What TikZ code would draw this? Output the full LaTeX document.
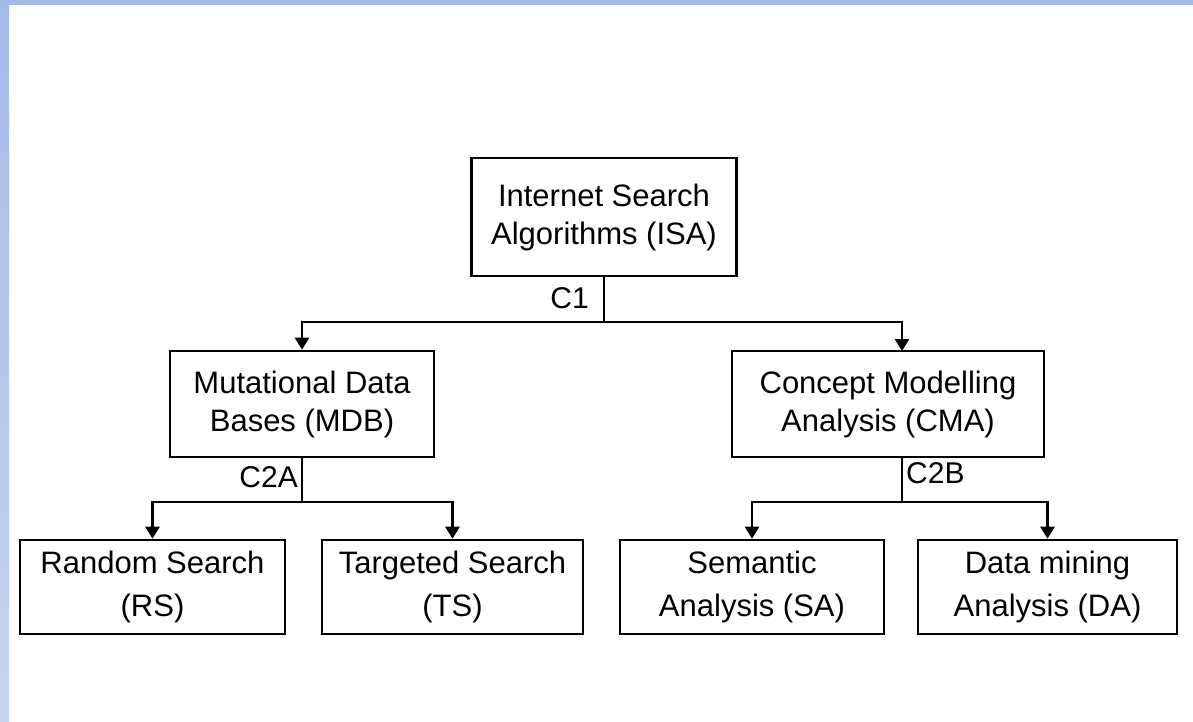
\documentclass[tikz,border=0pt]{standalone}
\usepackage{fontspec}
\setmainfont{Liberation Sans}
\usetikzlibrary{arrows.meta}
\definecolor{bandblue}{HTML}{A3BBE6}
\definecolor{bandlight}{HTML}{C6D5F0}
\begin{document}
\begin{tikzpicture}[x=1pt,y=-1pt,
  box/.style={draw=black,line width=2.6pt,fill=white,align=center,inner sep=0pt,
    font=\fontsize{31}{38}\selectfont},
  lowbox/.style={box,font=\fontsize{31}{43}\selectfont},
  conn/.style={line width=2.6pt,draw=black},
  arr/.style={conn,-{Triangle[width=14pt,length=12pt]}},
  lbl/.style={font=\fontsize{30}{36}\selectfont,inner sep=0pt}]
\useasboundingbox (0,0) rectangle (1193,721);
\fill[white] (0,0) rectangle (1193,721);
\fill[bandblue] (0,0) rectangle (1193,5);
\shade[top color=bandblue,bottom color=bandlight] (0,0) rectangle (9,721);
% nodes
\node[box,minimum width=265pt,minimum height=118pt] (ISA) at (604,217) {Internet Search\\Algorithms (ISA)};
\node[box,minimum width=264pt,minimum height=106pt] (MDB) at (302,404) {Mutational Data\\Bases (MDB)};
\node[box,minimum width=312pt,minimum height=106pt] (CMA) at (888,404) {Concept Modelling\\Analysis (CMA)};
\node[lowbox,minimum width=265pt,minimum height=94pt] (RS) at (152.5,587) {Random Search\\(RS)};
\node[lowbox,minimum width=261pt,minimum height=94pt] (TS) at (452.5,587) {Targeted Search\\(TS)};
\node[lowbox,minimum width=264pt,minimum height=94pt] (SA) at (752,587) {Semantic\\Analysis (SA)};
\node[lowbox,minimum width=259pt,minimum height=94pt] (DA) at (1047.5,587) {Data mining\\Analysis (DA)};
% junctions
\coordinate (j1) at (604,322);
\coordinate (j2) at (302,502);
\coordinate (j3) at (902,502);
\coordinate (cmatop) at (902,351);
\coordinate (cmabot) at (902,457);
% connectors
\draw[conn] (ISA.south) -- (j1);
\draw[arr] (j1) -| (MDB.north);
\draw[arr] (j1) -| (cmatop);
\draw[conn] (MDB.south) -- (j2);
\draw[arr] (j2) -| (RS.north);
\draw[arr] (j2) -| (TS.north);
\draw[conn] (cmabot) -- (j3);
\draw[arr] (j3) -| (SA.north);
\draw[arr] (j3) -| (DA.north);
% labels
\node[lbl,anchor=east] (c1) at (589,298) {C1};
\node[lbl,anchor=east] (c2a) at (298,477) {C2A};
\node[lbl,anchor=west] (c2b) at (906,473) {C2B};
\end{tikzpicture}
\end{document}
